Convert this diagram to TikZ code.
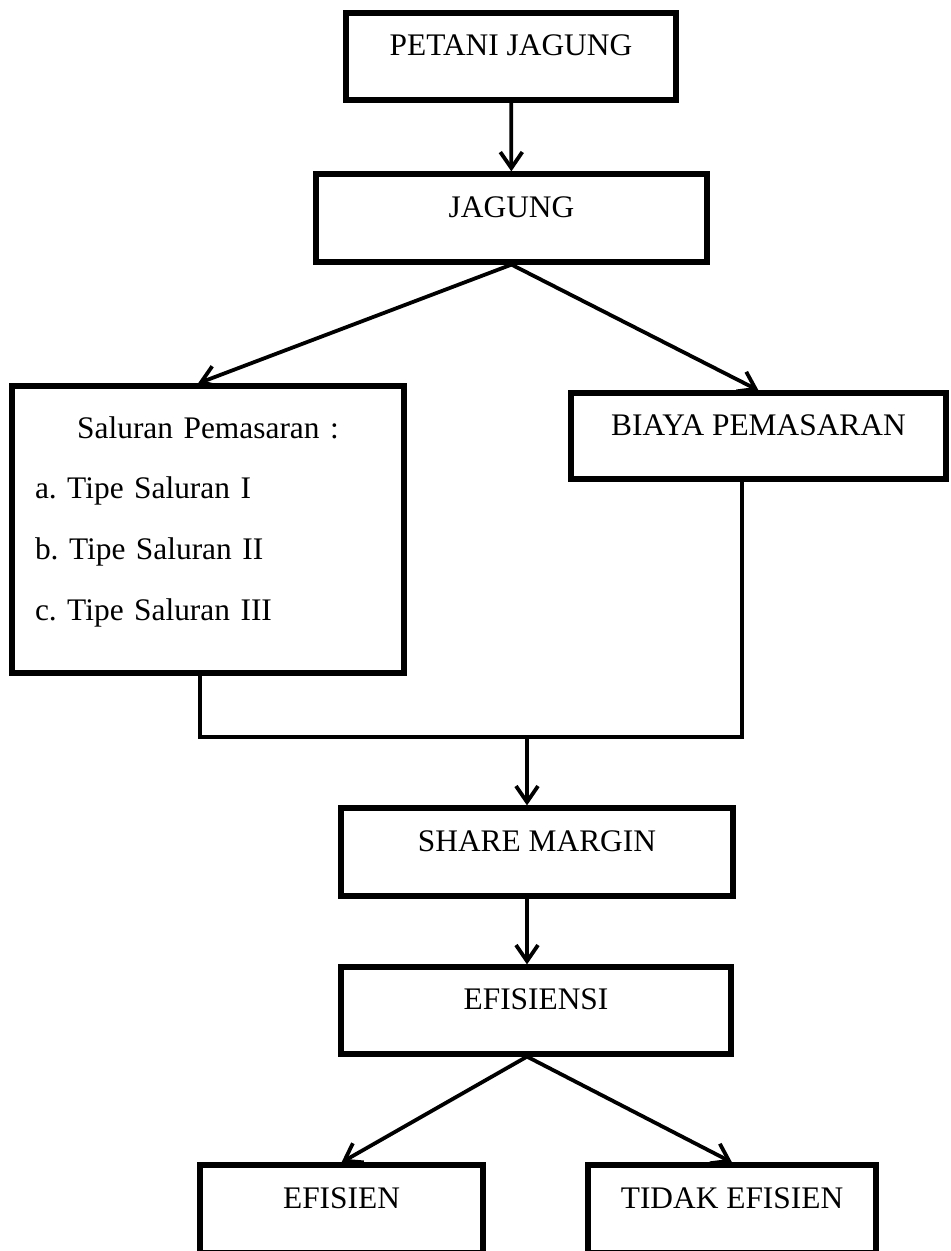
\documentclass[tikz,border=0pt]{standalone}
\usepackage{fontspec}
\setmainfont{Liberation Serif}
\usetikzlibrary{arrows.meta,calc}

\begin{document}
\begin{tikzpicture}[x=0.5pt,y=-0.5pt,
  box/.style={draw,line width=2.6pt,inner sep=0pt,text depth=11pt,
    font=\fontsize{15.7}{30.3}\selectfont\frenchspacing},
  joint/.style={line width=1.9pt},
  pointer/.style={line width=1.9pt,-{Straight Barb[length=8pt,width=11pt]}}]
\useasboundingbox (0,0) rectangle (950,1251);
% coordinates are in pixels of the page, y goes down
\node[box,minimum width=165pt,minimum height=43.5pt] (petani) at (511,56.5) {PETANI JAGUNG};
\node[box,minimum width=195.5pt,minimum height=44pt] (jagung) at (511.5,218) {JAGUNG};
\node[box,minimum width=196pt,minimum height=143.5pt,text width=173pt,inner xsep=11.5pt,
  text depth=102pt] (saluran) at (208,529.5)
  {{\centering Saluran Pemasaran :\par}\raggedright
   a. Tipe Saluran I\\ b. Tipe Saluran II\\ c. Tipe Saluran III};
\node[box,minimum width=187.5pt,minimum height=43pt] (biaya) at (758.5,436) {BIAYA PEMASARAN};
\node[box,minimum width=196pt,minimum height=44pt] (share) at (537,852) {SHARE MARGIN};
\node[box,minimum width=195pt,minimum height=43.5pt] (efisiensi) at (536,1010.5) {EFISIENSI};
\node[box,minimum width=141.5pt,minimum height=44pt] (efisien) at (341.5,1209) {EFISIEN};
\node[box,minimum width=144pt,minimum height=44pt] (tidak) at (732,1209) {TIDAK EFISIEN};

\draw[pointer] (petani) -- (jagung);
\draw[pointer] (jagung.south) -- ([xshift=-5pt]saluran.north);
\draw[pointer] (jagung.south) -- (biaya.north);

% both branches meet on one line
\coordinate (jl) at (200,737);
\coordinate (jr) at (742,737);
\coordinate (jm) at (527,737);
\draw[joint] (saluran.south -| jl) -- (jl) -- (jr) -- (biaya.south -| jr);
\draw[pointer] (jm) -- (jm |- share.north);
\draw[pointer] (share.south -| jm) -- (efisiensi.north -| jm);
\draw[pointer] (efisiensi.south -| jm) -- (efisien.north);
\draw[pointer] (efisiensi.south -| jm) -- (tidak.north);
\end{tikzpicture}
\end{document}
